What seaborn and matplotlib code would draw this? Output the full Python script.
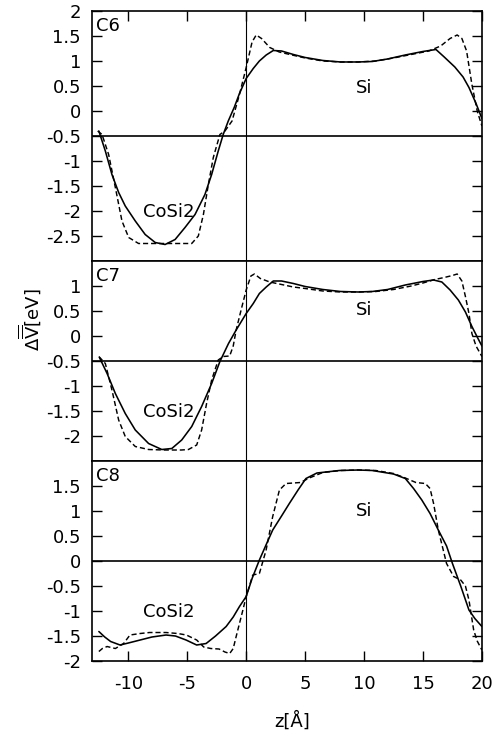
import numpy as np
import pandas as pd
import matplotlib
matplotlib.use("Agg")
import matplotlib.pyplot as plt
import seaborn as sns

# Planar-averaged potential across the CoSi2/Si interface for three models
panel_names = ["C6", "C7", "C8"]

# C6
c6_solid_z = [-12.5, -11.95, -11.39, -10.82, -10.26, -9.41, -8.57, -7.72, -6.88, -6.03, -5.19, -4.34, -3.5,
              -2.93, -2.37, -1.95, -1.52, -1.0, -0.57, 0.0, 0.6, 1.12, 1.7, 2.3, 3.0, 4.0, 5.0, 6.5, 8.0,
              9.5, 10.7, 12.0, 13.5, 15.0, 16.1, 16.8, 17.7, 18.4, 18.9, 19.5, 20.0]
c6_solid_v = [-0.4, -0.8, -1.27, -1.63, -1.9, -2.2, -2.47, -2.63, -2.67, -2.57, -2.33, -2.07, -1.67,
              -1.27, -0.8, -0.47, -0.2, 0.08, 0.35, 0.65, 0.85, 1.0, 1.12, 1.21, 1.2, 1.13, 1.07, 1.01, 0.98,
              0.98, 0.99, 1.04, 1.12, 1.19, 1.23, 1.08, 0.88, 0.68, 0.47, 0.15, -0.15]
c6_dash_z = [-12.6, -12.23, -11.67, -11.1, -10.54, -9.97, -9.13, -8.0, -6.5, -5.2, -4.62, -4.06, -3.63,
             -3.21, -2.79, -2.23, -1.8, -1.2, -0.57, 0.0, 0.5, 0.85, 1.3, 2.0, 2.8, 3.7, 5.0, 6.5,
             8.0, 9.5, 11.0, 12.5, 14.0, 15.5, 16.5, 17.3, 17.9, 18.3, 18.7, 19.15, 19.6, 20.0]
c6_dash_v = [-0.4, -0.47, -0.87, -1.53, -2.2, -2.53, -2.65, -2.65, -2.65, -2.65, -2.65, -2.5, -2.07,
             -1.47, -0.93, -0.47, -0.4, -0.2, 0.33, 0.87, 1.38, 1.52, 1.45, 1.27, 1.18, 1.13, 1.06, 1.0,
             0.98, 0.98, 1.0, 1.06, 1.13, 1.2, 1.3, 1.45, 1.52, 1.45, 1.2, 0.53, 0.0, -0.3]

# C7
c7_solid_z = [-12.45, -11.8, -11.1, -10.26, -9.41, -8.28, -7.16, -6.31, -5.47, -4.62, -3.78, -2.93, -2.23,
              -1.5, -0.85, 0.0, 0.6, 1.12, 1.7, 2.3, 3.0, 4.0, 5.0, 6.5, 8.0, 9.5, 10.7, 12.0, 13.5,
              15.0, 15.9, 16.6, 17.3, 18.0, 18.6, 19.15, 19.6, 20.0]
c7_solid_v = [-0.43, -0.75, -1.15, -1.55, -1.88, -2.15, -2.27, -2.25, -2.08, -1.81, -1.41, -0.95, -0.51,
              -0.15, 0.12, 0.45, 0.65, 0.85, 0.98, 1.1, 1.1, 1.05, 0.99, 0.93, 0.89, 0.88, 0.89, 0.93, 1.02,
              1.09, 1.12, 1.08, 0.92, 0.72, 0.48, 0.19, -0.02, -0.2]
c7_dash_z = [-12.5, -11.95, -11.39, -10.82, -10.26, -9.41, -8.28, -7.0, -5.5, -4.9, -4.2, -3.78, -3.36,
             -2.93, -2.37, -1.95, -1.4, -1.1, -0.85, -0.4, 0.0, 0.4, 0.7, 1.2, 2.0, 3.0, 4.0, 5.0,
             6.5, 8.0, 9.5, 11.0, 12.5, 14.0, 15.0, 16.0, 16.8, 17.5, 17.9, 18.3, 18.6, 18.9, 19.15, 19.5, 20.0]
c7_dash_v = [-0.41, -0.55, -1.08, -1.68, -2.01, -2.21, -2.27, -2.28, -2.28, -2.27, -2.18, -1.88, -1.35,
             -0.88, -0.48, -0.41, -0.4, -0.2, 0.12, 0.55, 0.92, 1.2, 1.24, 1.15, 1.08, 1.03, 0.98, 0.95,
             0.9, 0.88, 0.88, 0.89, 0.93, 1.0, 1.06, 1.13, 1.17, 1.21, 1.24, 1.1, 0.79, 0.45, 0.05, -0.2, -0.41]

# C8
c8_solid_z = [-12.5, -12.0, -11.5, -10.7, -10.0, -9.0, -8.0, -6.8, -6.0, -5.1, -4.2, -3.4, -2.6, -1.7,
              -1.1, -0.57, 0.0, 0.5, 1.12, 1.7, 2.25, 3.0, 3.66, 4.4, 5.07, 6.0, 7.9, 9.5, 10.7, 12.5,
              13.5, 14.2, 14.9, 15.6, 16.3, 17.0, 17.5, 18.2, 18.9, 19.4, 20.0]
c8_solid_v = [-1.41, -1.52, -1.61, -1.68, -1.64, -1.58, -1.52, -1.48, -1.5, -1.58, -1.68, -1.65, -1.5, -1.31,
              -1.12, -0.91, -0.71, -0.35, 0.02, 0.33, 0.62, 0.9, 1.15, 1.42, 1.65, 1.76, 1.81, 1.82, 1.81, 1.74,
              1.65, 1.45, 1.22, 0.95, 0.62, 0.3, -0.05, -0.5, -0.98, -1.15, -1.31]
c8_dash_z = [-12.5, -12.2, -11.8, -11.1, -10.4, -9.86, -9.0, -8.2, -6.8, -5.8, -5.07, -4.2, -3.6, -3.0,
             -2.3, -1.8, -1.4, -1.1, -0.85, -0.28, 0.0, 0.56, 1.12, 1.69, 2.25, 2.82, 3.38, 4.0, 4.6, 5.35,
             6.5, 8.0, 9.5, 11.0, 12.5, 13.5, 14.4, 15.2, 15.6, 15.9, 16.3, 17.0, 17.6, 18.2, 18.6, 18.9,
             19.3, 19.6, 20.0]
c8_dash_v = [-1.81, -1.75, -1.71, -1.75, -1.65, -1.48, -1.45, -1.43, -1.43, -1.45, -1.48, -1.58, -1.72, -1.75,
             -1.76, -1.82, -1.85, -1.75, -1.51, -0.98, -0.71, -0.28, -0.25, 0.22, 0.89, 1.42, 1.55, 1.56, 1.57, 1.66,
             1.77, 1.81, 1.82, 1.81, 1.75, 1.66, 1.57, 1.55, 1.45, 1.15, 0.62, -0.05, -0.31, -0.38, -0.5, -0.78,
             -1.38, -1.6, -1.78]

solid_z = [c6_solid_z, c7_solid_z, c8_solid_z]
solid_v = [c6_solid_v, c7_solid_v, c8_solid_v]
dash_z = [c6_dash_z, c7_dash_z, c8_dash_z]
dash_v = [c6_dash_v, c7_dash_v, c8_dash_v]

y_limits = [(-3.0, 2.0), (-2.5, 1.5), (-2.0, 2.0)]
y_ticks = [[2, 1.5, 1, 0.5, 0, -0.5, -1, -1.5, -2, -2.5],
           [1, 0.5, 0, -0.5, -1, -1.5, -2],
           [1.5, 1, 0.5, 0, -0.5, -1, -1.5, -2]]
ref_levels = [-0.5, -0.5, 0.0]
x_ticks = [-10, -5, 0, 5, 10, 15, 20]
si_label_pos = [(10.0, 0.46), (10.0, 0.52), (10.0, 1.0)]
cosi_label_pos = [(-6.6, -2.03), (-6.6, -1.51), (-6.6, -1.01)]

sns.set_style("ticks")
plt.rcParams["font.family"] = ["DejaVu Sans"]
plt.rcParams["mathtext.fontset"] = "dejavusans"
plt.rcParams["axes.unicode_minus"] = False
for key in ("text.color", "axes.labelcolor", "xtick.color", "ytick.color", "axes.edgecolor"):
    plt.rcParams[key] = "black"

FS = 13
fig, axes = plt.subplots(3, 1, figsize=(5.02, 7.37), dpi=100, sharex=True,
                         gridspec_kw=dict(height_ratios=[5, 4, 4], hspace=0))
fig.subplots_adjust(left=0.1833, right=0.960, top=0.9851, bottom=0.1031)

for i, ax in enumerate(axes):
    ax.axhline(ref_levels[i], color="black", lw=1.2, zorder=1)
    ax.axvline(0, color="black", lw=0.8, zorder=1)
    sns.lineplot(x=solid_z[i], y=solid_v[i], ax=ax, color="black", lw=1.15,
                 sort=False, estimator=None, zorder=3)
    sns.lineplot(x=dash_z[i], y=dash_v[i], ax=ax, color="black", lw=1.05,
                 linestyle=(0, (3.5, 2.0)), sort=False, estimator=None, zorder=3)
    ax.set_xlim(-13.08, 20.0)
    ax.set_ylim(*y_limits[i])
    ax.set_yticks(y_ticks[i])
    ax.set_yticklabels([f"{t:g}" for t in y_ticks[i]])
    ax.set_xticks(x_ticks)
    ax.set_xticklabels([f"{t:g}" for t in x_ticks])
    ax.tick_params(axis="y", direction="in", length=7, width=1.0, left=True, right=True,
                   labelsize=FS, pad=8, colors="black")
    ax.tick_params(axis="x", direction="in", length=7, width=1.0,
                   top=(i == 0), bottom=(i == 2), labelsize=FS, pad=10, colors="black")
    for s in ax.spines.values():
        s.set_linewidth(1.2)
        s.set_color("black")
    ax.set_xlabel("")
    ax.set_ylabel("")
    ax.annotate(panel_names[i], xy=(0, 1), xycoords="axes fraction", xytext=(3.0, -4.0),
                textcoords="offset points", ha="left", va="top", fontsize=FS, color="black")
    ax.text(*si_label_pos[i], "Si", ha="center", va="center", fontsize=FS, color="black")
    ax.text(*cosi_label_pos[i], "CoSi2", ha="center", va="center", fontsize=FS, color="black")

fig.text(0.06, 0.566, r"$\Delta\overline{\overline{\mathrm{V}}}$[eV]", rotation=90,
         ha="center", va="center", fontsize=FS, color="black")
fig.text(0.582, 0.0217, "z[Å]", ha="center", va="center", fontsize=FS, color="black")

fig.savefig("out.png", dpi=100)
